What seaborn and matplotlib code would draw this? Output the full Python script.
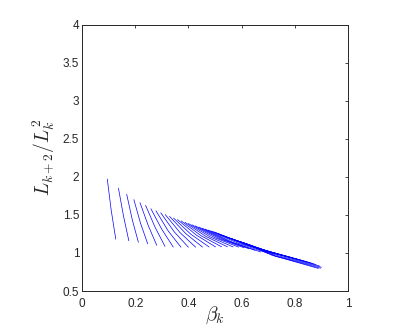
import matplotlib
matplotlib.use("Agg")
import matplotlib.pyplot as plt
import matplotlib.ticker as mticker
import pandas as pd
import seaborn as sns

# one short curve per k: upper end, a middle point, lower end
top_beta = [0.095, 0.137, 0.168, 0.195, 0.218, 0.239, 0.259, 0.278, 0.296, 0.313,
            0.329, 0.344, 0.359, 0.373, 0.387, 0.400, 0.413, 0.426, 0.439, 0.451,
            0.463, 0.475, 0.487, 0.498, 0.509, 0.520, 0.531, 0.542, 0.553, 0.564,
            0.575, 0.586, 0.597, 0.608, 0.619, 0.630]
top_ratio = [1.970, 1.850, 1.770, 1.700, 1.660, 1.625, 1.580, 1.553, 1.527, 1.503,
             1.480, 1.458, 1.438, 1.420, 1.402, 1.386, 1.370, 1.355, 1.340, 1.326,
             1.313, 1.300, 1.287, 1.274, 1.256, 1.238, 1.224, 1.210, 1.197, 1.184,
             1.171, 1.158, 1.145, 1.132, 1.120, 1.108]

mid_beta = [0.110, 0.156, 0.189, 0.220, 0.249, 0.275, 0.300, 0.324, 0.347, 0.369,
            0.390, 0.410, 0.430, 0.448, 0.466, 0.483, 0.500, 0.517, 0.533, 0.550,
            0.567, 0.587, 0.605, 0.623, 0.640, 0.655, 0.670, 0.683, 0.696, 0.709,
            0.721, 0.732, 0.735, 0.725, 0.715, 0.730]
mid_ratio = [1.555, 1.485, 1.435, 1.390, 1.360, 1.335, 1.310, 1.289, 1.276, 1.265,
             1.254, 1.243, 1.234, 1.225, 1.216, 1.208, 1.199, 1.187, 1.173, 1.156,
             1.138, 1.127, 1.116, 1.101, 1.084, 1.066, 1.051, 1.036, 1.022, 1.009,
             0.996, 0.983, 0.965, 0.962, 0.968, 0.955]

bottom_beta = [0.127, 0.176, 0.212, 0.247, 0.281, 0.312, 0.343, 0.372, 0.400, 0.427,
               0.453, 0.478, 0.502, 0.525, 0.547, 0.568, 0.589, 0.609, 0.628, 0.650,
               0.672, 0.700, 0.725, 0.750, 0.772, 0.792, 0.810, 0.826, 0.841, 0.855,
               0.868, 0.880, 0.892, 0.900, 0.897, 0.888]
bottom_ratio = [1.180, 1.160, 1.140, 1.120, 1.100, 1.086, 1.077, 1.075, 1.075, 1.076,
                1.077, 1.078, 1.079, 1.080, 1.080, 1.079, 1.077, 1.068, 1.055, 1.035,
                1.012, 0.995, 0.985, 0.968, 0.952, 0.935, 0.918, 0.902, 0.888, 0.874,
                0.861, 0.848, 0.830, 0.812, 0.800, 0.797]

x_ticks = [0, 0.2, 0.4, 0.6, 0.8, 1]
y_ticks = [0.5, 1, 1.5, 2, 2.5, 3, 3.5, 4]

rows = []
for k in range(len(top_beta)):
    rows.append((k, top_beta[k], top_ratio[k]))
    rows.append((k, mid_beta[k], mid_ratio[k]))
    rows.append((k, bottom_beta[k], bottom_ratio[k]))
df = pd.DataFrame(rows, columns=["curve", "beta", "ratio"])

sns.set_style("white")
plt.rcParams["font.family"] = ["Liberation Sans", "DejaVu Sans"]
plt.rcParams["mathtext.fontset"] = "cm"

fig = plt.figure(figsize=(4.15, 3.28), dpi=100)
ax = fig.add_axes([0.1976, 0.1128, 0.641, 0.8125])

sns.lineplot(data=df, x="beta", y="ratio", units="curve", estimator=None,
             sort=False, color="blue", linewidth=0.5, ax=ax)

ax.set_xlim(0, 1)
ax.set_ylim(0.5, 4)
ax.set_xticks(x_ticks)
ax.set_yticks(y_ticks)
ax.xaxis.set_major_formatter(mticker.FormatStrFormatter("%g"))
ax.yaxis.set_major_formatter(mticker.FormatStrFormatter("%g"))
ax.tick_params(direction="in", length=2.5, width=0.6, colors="#262626",
               labelsize=8.5, top=True, right=True)
ax.tick_params(axis="x", pad=5)
ax.tick_params(axis="y", pad=2)
for s in ax.spines.values():
    s.set_color("#262626")
    s.set_linewidth(0.7)

ax.set_xlabel(r"$\beta_k$", fontsize=14, labelpad=-4)
ax.set_ylabel(r"$L_{k+2}/L_k^2$", fontsize=14, labelpad=4)

fig.savefig("out.png", dpi=100)
